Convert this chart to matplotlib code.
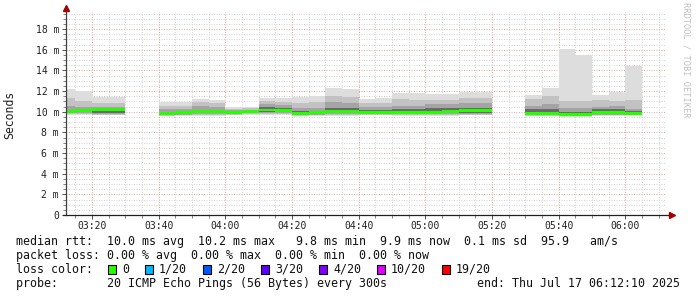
import matplotlib
matplotlib.use('Agg')
import matplotlib.pyplot as plt
from matplotlib.patches import Rectangle
from matplotlib.ticker import MultipleLocator, FixedLocator
import numpy as np

# ---------------- data (ms) ----------------
bar_start = ["03:10", "03:15", "03:20", "03:25",
             "03:40", "03:45", "03:50", "03:55", "04:00", "04:05", "04:10", "04:15",
             "04:20", "04:25", "04:30", "04:35", "04:40", "04:45", "04:50", "04:55",
             "05:00", "05:05", "05:10", "05:15",
             "05:30", "05:35", "05:40", "05:45", "05:50", "05:55", "06:00"]
rtt_max = [12.15, 12.05, 11.45, 11.4,
           10.9, 10.9, 11.25, 11.1, 10.45, 10.5, 11.3, 11.3,
           11.4, 11.5, 12.3, 12.15, 11.2, 11.3, 11.8, 11.8,
           11.7, 11.7, 11.9, 11.9,
           11.6, 12.25, 16.1, 15.5, 11.6, 11.95, 14.4]
rtt_hi2 = [11.3, 11.0, 10.8, 10.8,
           10.6, 10.55, 10.9, 10.8, 10.3, 10.35, 11.0, 10.9,
           10.8, 10.9, 11.5, 11.4, 10.8, 10.8, 11.2, 11.1,
           11.1, 11.1, 11.3, 11.3,
           11.2, 11.5, 11.0, 11.0, 11.1, 11.0, 11.1]
rtt_hi3 = [10.6, 10.5, 10.5, 10.45,
           10.3, 10.25, 10.6, 10.5, 10.15, 10.2, 10.7, 10.65,
           10.4, 10.4, 10.9, 10.8, 10.5, 10.5, 10.6, 10.6,
           10.7, 10.7, 10.8, 10.8,
           10.6, 10.7, 10.4, 10.4, 10.5, 10.6, 10.3]
rtt_hi4 = [10.2, 10.25, 10.3, 10.3,
           10.0, 10.05, 10.2, 10.15, 10.05, 10.1, 10.5, 10.4,
           10.1, 10.1, 10.4, 10.35, 10.2, 10.2, 10.25, 10.25,
           10.4, 10.35, 10.4, 10.4,
           10.3, 10.3, 10.0, 10.0, 10.3, 10.3, 10.1]
rtt_median = [10.05, 10.1, 10.2, 10.2,
              9.8, 9.9, 10.0, 10.0, 9.95, 10.0, 10.15, 10.1,
              9.8, 9.9, 10.0, 10.0, 9.95, 9.95, 9.9, 9.9,
              9.95, 10.05, 10.1, 10.1,
              9.85, 9.85, 9.75, 9.75, 9.9, 9.9, 9.85]
rtt_lo4 = [9.95, 9.95, 9.85, 9.85,
           9.7, 9.8, 9.85, 9.85, 9.85, 9.9, 9.95, 9.95,
           9.7, 9.8, 9.85, 9.85, 9.85, 9.85, 9.8, 9.8,
           9.85, 9.9, 9.85, 9.85,
           9.7, 9.7, 9.65, 9.65, 9.8, 9.8, 9.75]
rtt_lo3 = [9.85, 9.85, 9.75, 9.75,
           9.65, 9.7, 9.75, 9.75, 9.8, 9.85, 9.85, 9.85,
           9.65, 9.7, 9.75, 9.75, 9.8, 9.8, 9.75, 9.75,
           9.75, 9.8, 9.75, 9.75,
           9.65, 9.65, 9.6, 9.6, 9.7, 9.7, 9.7]
rtt_lo2 = [9.75, 9.8, 9.7, 9.7,
           9.6, 9.65, 9.7, 9.7, 9.7, 9.75, 9.75, 9.75,
           9.6, 9.65, 9.7, 9.7, 9.7, 9.7, 9.7, 9.7,
           9.7, 9.7, 9.7, 9.7,
           9.6, 9.6, 9.55, 9.55, 9.65, 9.65, 9.65]
rtt_min = [9.7, 9.7, 9.65, 9.65,
           9.55, 9.6, 9.6, 9.6, 9.65, 9.7, 9.65, 9.65,
           9.55, 9.6, 9.6, 9.6, 9.65, 9.65, 9.6, 9.6,
           9.6, 9.6, 9.65, 9.65,
           9.55, 9.55, 9.5, 9.5, 9.6, 9.6, 9.6]

x_ticks = ["03:20", "03:40", "04:00", "04:20", "04:40", "05:00", "05:20", "05:40", "06:00"]
y_ticks = [0, 2, 4, 6, 8, 10, 12, 14, 16, 18]

legend_rows = [
    "median rtt:  10.0 ms avg  10.2 ms max   9.8 ms min  9.9 ms now  0.1 ms sd  95.9   am/s",
    "packet loss: 0.00 % avg  0.00 % max  0.00 % min  0.00 % now",
]
loss_labels = ["0", "1/20", "2/20", "3/20", "4/20", "10/20", "19/20"]
loss_colors = ["#26ff00", "#00b8ff", "#0059ff", "#5e00ff", "#7e00ff", "#dd00ff", "#ff0000"]
probe_text = "probe:       20 ICMP Echo Pings (56 Bytes) every 300s"
end_text = "end: Thu Jul 17 06:12:10 2025"
step_min = 5
t_start = "03:12:10"
t_end = "06:12:10"

# ---------------- helpers ----------------
def to_min(s):
    parts = [int(p) for p in s.split(':')]
    m = parts[0] * 60 + parts[1]
    if len(parts) > 2:
        m += parts[2] / 60.0
    return m

W, H = 697, 297
fig = plt.figure(figsize=(W / 100, H / 100), dpi=100)
fig.patch.set_facecolor('white')

L, R, T, B = 66, 666, 12, 215
ax = fig.add_axes([L / W, 1 - B / H, (R - L) / W, (B - T) / H])
ax.set_facecolor('white')

xs = np.array([to_min(s) for s in bar_start])
x0, x1 = to_min(t_start), to_min(t_end)
ax.set_xlim(x0, x1)
ax.set_ylim(0, (B - T) / 10.33)

mono = 'DejaVu Sans Mono'

# grid
for v in np.arange(0, 19.6, 0.5):
    if abs(v / 2 - round(v / 2)) > 1e-6:
        ax.axhline(v, color='#d4d4d4', lw=0.72, ls=(0, (1, 1.5)), zorder=1)
for v in np.arange(195, x1, 5):
    if v % 20 != 0:
        ax.axvline(v, color='#d4d4d4', lw=0.72, ls=(0, (1, 1.5)), zorder=1)
for v in y_ticks[1:]:
    ax.axhline(v, color='#eaa8a8', lw=0.72, ls=(0, (1, 1.5)), zorder=1.1)
for s in x_ticks:
    ax.axvline(to_min(s), color='#eaa8a8', lw=0.72, ls=(0, (1, 1.5)), zorder=1.1)

# smoke
bands = [(rtt_min, rtt_max, '#dddddd'),
         (rtt_lo2, rtt_hi2, '#c2c2c2'),
         (rtt_lo3, rtt_hi3, '#a4a4a4'),
         (rtt_lo4, rtt_hi4, '#6a6a6a')]
for lo, hi, col in bands:
    lo = np.array(lo); hi = np.array(hi)
    ax.bar(xs, hi - lo, bottom=lo, width=step_min, align='edge', color=col,
           linewidth=0, zorder=2)
med = np.array(rtt_median)
ax.bar(xs, 0.26, bottom=med - 0.13, width=step_min, align='edge', color=loss_colors[0],
       linewidth=0, zorder=3)

# axes styling
for sp in ['top', 'right', 'left', 'bottom']:
    ax.spines[sp].set_visible(False)
ax.plot([0, 0], [0, 1.02], transform=ax.transAxes, color='#404040', lw=0.9, clip_on=False, zorder=5)
ax.plot([-0.005, 1.008], [0, 0], transform=ax.transAxes, color='#202020', lw=0.9, clip_on=False, zorder=5)
ax.plot([0], [1.02], transform=ax.transAxes, marker='^', color='#a00000', ms=4, clip_on=False, zorder=6)
ax.plot([1.01], [0], transform=ax.transAxes, marker='>', color='#a00000', ms=4, clip_on=False, zorder=6)

ax.xaxis.set_major_locator(FixedLocator([to_min(s) for s in x_ticks]))
ax.set_xticklabels(x_ticks)
ax.xaxis.set_minor_locator(FixedLocator(list(np.arange(195, x1, 5))))
ax.yaxis.set_major_locator(FixedLocator(y_ticks))
ax.set_yticklabels([("%d m" % v) if v else "0" for v in y_ticks])
ax.yaxis.set_minor_locator(MultipleLocator(0.5))
ax.tick_params(axis='both', which='major', length=3, width=0.7, color='#505050',
               labelsize=7, pad=2)
ax.tick_params(axis='both', which='minor', length=2, width=0.7, color='#808080')
ax.tick_params(axis='x', which='major', pad=1.2)
for lab in ax.get_xticklabels() + ax.get_yticklabels():
    lab.set_fontfamily(mono)
    lab.set_color('#202020')

# y label
fig.text(10 / W, 1 - 115 / H, "Seconds", rotation=90, ha='center', va='center',
         fontsize=8.3, family=mono, color='#202020')
# watermark
fig.text(686 / W, 1 - 60 / H, "RRDTOOL / TOBI OETIKER", rotation=-90, ha='center',
         va='center', fontsize=6.2, family=mono, color='#c0c0c0')

# legend rows
fs = 8.37
cw = 7.0
rows_y = [241, 255, 269, 283]
for txt, yy in zip(legend_rows, rows_y[:2]):
    fig.text(16 / W, 1 - (yy + 4) / H, txt, ha='left', va='baseline', fontsize=fs,
             family=mono, color='#101010')
fig.text(16 / W, 1 - (rows_y[2] + 4) / H, "loss color:", ha='left', va='baseline',
         fontsize=fs, family=mono, color='#101010')
sx = 108
for lab, col in zip(loss_labels, loss_colors):
    fig.add_artist(Rectangle((sx / W, 1 - (rows_y[2] + 4.5) / H), 8 / W, 9 / H,
                             transform=fig.transFigure, facecolor=col,
                             edgecolor='black', lw=0.8))
    tx = sx + 14
    fig.text(tx / W, 1 - (rows_y[2] + 4) / H, lab, ha='left', va='baseline', fontsize=fs,
             family=mono, color='#101010')
    sx = tx + len(lab) * cw + 16
fig.text(16 / W, 1 - (rows_y[3] + 4) / H, probe_text, ha='left', va='baseline',
         fontsize=fs, family=mono, color='#101010')
fig.text(680 / W, 1 - (rows_y[3] + 4) / H, end_text, ha='right', va='baseline',
         fontsize=fs, family=mono, color='#101010')

fig.savefig('out.png', dpi=100, facecolor='white')
